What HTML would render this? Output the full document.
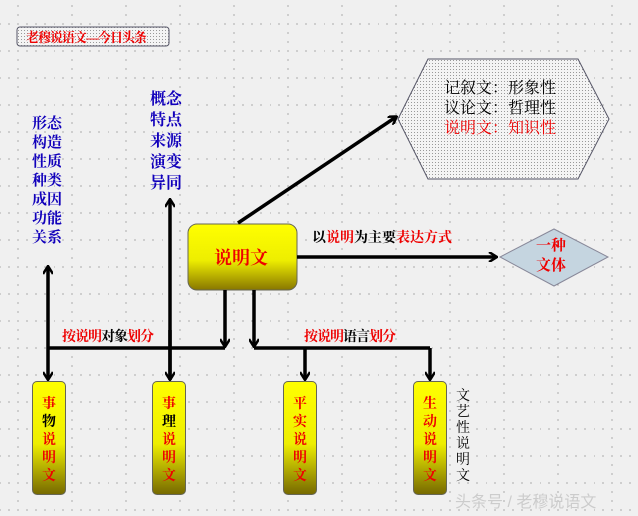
<!DOCTYPE html>
<html><head><meta charset="utf-8"><style>
body{margin:0;width:638px;height:516px;overflow:hidden;background:#f0f0f0;font-family:"Liberation Serif","Noto Serif CJK SC",serif;position:relative}
.t{position:absolute;font-weight:bold;white-space:nowrap}
.v{position:absolute;font-weight:bold;font-size:15px;line-height:19px;color:#10b;text-align:center}
.bx{position:absolute;width:34px;height:114px;border:1px solid #665;border-radius:5px;background:linear-gradient(#ff0 0%,#ee0 55%,#776a00 100%);color:#e00;font-weight:bold;font-size:14px;line-height:18px;text-align:center;box-sizing:border-box;padding-top:14px}
.r{color:#e00}.k{color:#000}
</style></head><body>
<svg width="638" height="516" style="position:absolute;left:0;top:0">
<defs>
<pattern id="g" width="54" height="27" patternUnits="userSpaceOnUse"><circle cx="18" cy="24" r="0.6" fill="#777"/><circle cx="27" cy="24" r="0.6" fill="#777"/><circle cx="36" cy="24" r="0.6" fill="#777"/><circle cx="45" cy="24" r="0.6" fill="#777"/><circle cx="0" cy="24" r="0.6" fill="#777"/><circle cx="9" cy="24" r="0.6" fill="#777"/><circle cx="18" cy="6" r="0.6" fill="#777"/><circle cx="18" cy="15" r="0.6" fill="#777"/></pattern>
<pattern id="s" width="3" height="3" patternUnits="userSpaceOnUse"><rect width="3" height="3" fill="#f4f4f4"/><rect width="1" height="1" fill="#999"/></pattern>
<linearGradient id="y" x1="0" y1="0" x2="0" y2="1"><stop offset="0" stop-color="#ff0"/><stop offset="0.55" stop-color="#ee0"/><stop offset="1" stop-color="#887700"/></linearGradient>
<marker id="a" markerWidth="10" markerHeight="10" refX="8" refY="5" orient="auto" markerUnits="userSpaceOnUse"><path d="M1,0 L9,5 L1,10" fill="none" stroke="#000" stroke-width="2.5"/></marker>
</defs>
<rect width="638" height="516" fill="url(#g)"/>
<polygon points="428,59 578,59 609,119 578,179 428,179 398,119" fill="url(#s)" stroke="#556" stroke-width="1"/>
<polygon points="554,229 608,257 554,286 500,257" fill="#c5d5e0" stroke="#889"/>
<rect x="188" y="224" width="109" height="66" rx="9" fill="url(#y)" stroke="#665"/>
<g stroke="#000" stroke-width="3.5" fill="none">
<line x1="238" y1="223" x2="396" y2="117" marker-end="url(#a)"/>
<line x1="297" y1="257" x2="496" y2="257" marker-end="url(#a)"/>
<line x1="225" y1="290" x2="225" y2="346" marker-end="url(#a)"/>
<polyline points="225,348 48,348"/>
<line x1="48" y1="348" x2="48" y2="379" marker-end="url(#a)"/>
<line x1="48" y1="348" x2="48" y2="267" marker-end="url(#a)"/>
<line x1="170" y1="380" x2="170" y2="200" marker-end="url(#a)"/>
<line x1="170" y1="330" x2="170" y2="379" marker-end="url(#a)"/>
<line x1="254" y1="290" x2="254" y2="346" marker-end="url(#a)"/>
<polyline points="254,348 430,348"/>
<line x1="305" y1="348" x2="305" y2="379" marker-end="url(#a)"/>
<line x1="430" y1="348" x2="430" y2="379" marker-end="url(#a)"/>
</g>
<rect x="17" y="27" width="152" height="19" rx="3" fill="url(#s)" stroke="#556"/>
</svg>
<div class="t r" style="left:26px;top:27px;font-size:13px;letter-spacing:-1px">老穆说语文—今日头条</div>
<div class="v" style="left:32px;top:115px">形态<br>构造<br>性质<br>种类<br>成因<br>功能<br>关系</div>
<div class="v" style="left:150px;top:89px;font-size:16px;line-height:21px">概念<br>特点<br>来源<br>演变<br>异同</div>
<div class="t r" style="left:214px;top:244px;font-size:18px">说明文</div>
<div class="t" style="left:312px;top:227px;font-size:14px">以<span class="r">说明</span>为主要<span class="r">表达方式</span></div>
<div class="t r" style="left:536px;top:236px;font-size:15px;line-height:20px;text-align:center">一种<br>文体</div>
<div class="t" style="left:444px;top:79px;font-size:16px;line-height:20px;font-weight:normal">记叙文：形象性<br>议论文：哲理性<br><span class="r">说明文：知识性</span></div>
<div class="t" style="left:62px;top:326px;font-size:14px;letter-spacing:-1px"><span class="r">按说明</span>对象<span class="r">划分</span></div>
<div class="t" style="left:304px;top:326px;font-size:14px;letter-spacing:-1px"><span class="r">按说明</span>语言<span class="r">划分</span></div>
<div class="bx" style="left:32px;top:381px">事<br><span class="k">物</span><br>说<br>明<br>文</div>
<div class="bx" style="left:152px;top:381px">事<br><span class="k">理</span><br>说<br>明<br>文</div>
<div class="bx" style="left:283px;top:381px">平<br>实<br>说<br>明<br>文</div>
<div class="bx" style="left:413px;top:381px">生<br>动<br>说<br>明<br>文</div>
<div class="t" style="left:456px;top:389px;font-size:14px;line-height:16px;font-weight:normal;white-space:normal;width:15px">文艺性说明文</div>
<div class="t" style="left:455px;top:488px;font-size:16px;font-weight:normal;color:#ccc;font-family:'Liberation Sans','Noto Sans CJK SC',sans-serif">头条号 / 老穆说语文</div>
</body></html>
